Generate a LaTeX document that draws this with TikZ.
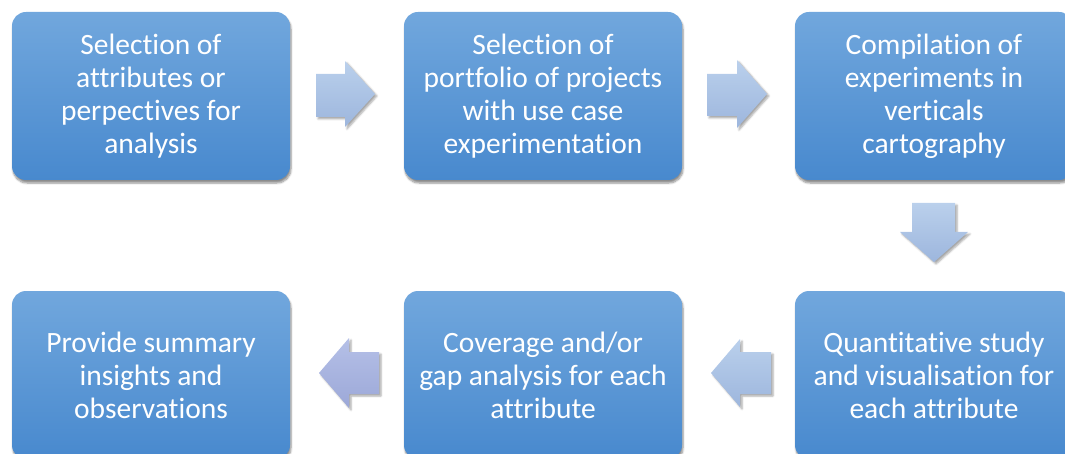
\documentclass[tikz,border=0pt]{standalone}
\usepackage{fontspec}
\setmainfont[Ligatures=NoCommon]{Carlito}
\usetikzlibrary{shadows.blur}
\definecolor{boxtop}{HTML}{71A7DD}
\definecolor{boxbot}{HTML}{4889CE}
\definecolor{arrtop}{HTML}{BAD0EC}
\definecolor{arrbot}{HTML}{9DB6DD}
\definecolor{lavtop}{HTML}{B5C0E7}
\definecolor{lavbot}{HTML}{9CA8D8}
\begin{document}
\begin{tikzpicture}[x=1pt,y=-1pt,
  stepbox/.style={rounded corners=14pt, top color=boxtop, bottom color=boxbot, draw=none,
    minimum width=278pt, minimum height=168pt, text=white, align=center, inner sep=0pt,
    font=\fontsize{29.5}{33}\selectfont,
    blur shadow={shadow xshift=1pt, shadow yshift=-3pt, shadow opacity=45, shadow blur steps=6, shadow blur extra rounding=2pt}},
  blockarrow/.style={top color=arrtop, bottom color=arrbot, draw=none,
    blur shadow={shadow xshift=2pt, shadow yshift=-2pt, shadow opacity=35, shadow blur steps=5}},
  lavarrow/.style={blockarrow, top color=lavtop, bottom color=lavbot}]
\useasboundingbox (0,0) rectangle (1065,454);
\node[stepbox] (b1) at (151,96) {Selection of\\attributes or\\perpectives for\\analysis};
\node[stepbox] (b2) at (543,96) {Selection of\\portfolio of projects\\with use case\\experimentation};
\node[stepbox] (b3) at (934,96) {Compilation of\\experiments in\\verticals\\cartography};
\node[stepbox] (b5) at (934,375) {Quantitative study\\and visualisation for\\each attribute};
\node[stepbox] (b4) at (543,375) {Coverage and/or\\gap analysis for each\\attribute};
\node[stepbox] (b6) at (151,375) {Provide summary\\insights and\\observations};
% block arrows
\path[blockarrow] (316,74) -- (345,74) -- (345,61) -- (375,94) -- (345,127) -- (345,117) -- (316,117) -- cycle;
\path[blockarrow] (707,74) -- (737,74) -- (737,60) -- (767,94) -- (737,128) -- (737,116) -- (707,116) -- cycle;
\path[blockarrow] (912,203) -- (955,203) -- (955,232) -- (968,232) -- (934,262) -- (900,232) -- (912,232) -- cycle;
\path[blockarrow] (771,352) -- (740,352) -- (740,339) -- (711,373) -- (740,407) -- (740,394) -- (771,394) -- cycle;
\path[lavarrow] (379,352) -- (349,352) -- (349,338) -- (319,373) -- (349,408) -- (349,394) -- (379,394) -- cycle;
\end{tikzpicture}
\end{document}
